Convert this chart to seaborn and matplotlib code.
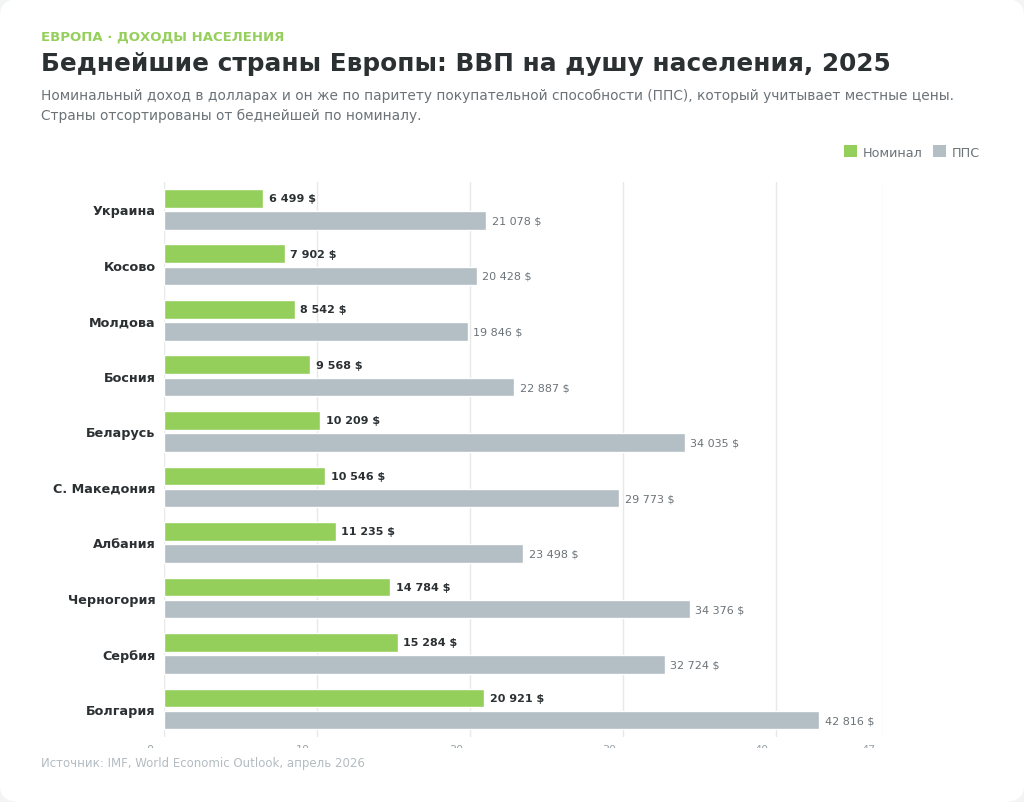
import pandas as pd
import numpy as np
import matplotlib
matplotlib.use("Agg")
import matplotlib.pyplot as plt
import seaborn as sns
from matplotlib.patches import Patch, FancyBboxPatch
from matplotlib.transforms import Bbox, TransformedBbox, ScaledTranslation

COUNTRIES = ['Украина', 'Косово', 'Молдова', 'Босния', 'Беларусь',
             'С. Македония', 'Албания', 'Черногория', 'Сербия', 'Болгария']
NOMINAL = [6499, 7902, 8542, 9568, 10209, 10546, 11235, 14784, 15284, 20921]
PPP = [21078, 20428, 19846, 22887, 34035, 29773, 23498, 34376, 32724, 42816]
SERIES = ['Номинал', 'ППС']
X_TICKS = [0, 10000, 20000, 30000, 40000, 47000]
X_TICK_LABELS = ['0', '10', '20', '30', '40', '47']

GREEN = '#95cf5b'
GREY = '#b4bec5'
DARK = '#2b3033'
MUTED = '#6b7378'


def fmt(v):
    return f"{v:,}".replace(",", " ") + " $"


df = pd.DataFrame({
    'country': COUNTRIES * 2,
    'value': NOMINAL + PPP,
    'series': [SERIES[0]] * len(COUNTRIES) + [SERIES[1]] * len(COUNTRIES),
})

sns.set_style("white")
plt.rcParams['font.family'] = ['DejaVu Sans']

fig = plt.figure(figsize=(10.24, 8.03), dpi=100)
fig.patch.set_facecolor('#f3f4f5')
card = FancyBboxPatch((0, 0), 1, 1, boxstyle="round,pad=0,rounding_size=0.02",
                      transform=fig.transFigure, facecolor='white',
                      edgecolor='none', zorder=-10)
fig.patches.append(card)

ax = fig.add_axes([0.1602, 0.0812, 0.7021, 0.6914])
ax.set_facecolor('none')
sns.barplot(data=df, x='value', y='country', hue='series', order=COUNTRIES,
            hue_order=SERIES, palette=[GREEN, GREY], orient='h', saturation=1,
            width=0.8, gap=0.16, legend=False, ax=ax, zorder=3)

ax.bar_label(ax.containers[0], labels=[fmt(v) for v in NOMINAL], padding=4,
             fontsize=8, fontweight='bold', color=DARK)
ax.bar_label(ax.containers[1], labels=[fmt(v) for v in PPP], padding=4,
             fontsize=8, color=MUTED)

ax.set_xlim(0, 47000)
ax.set_ylim(len(COUNTRIES) - 0.5, -0.5)
ax.set_xticks(X_TICKS)
ax.set_xticklabels(X_TICK_LABELS)
ax.grid(axis='x', color='#e6e8ea', linewidth=1, zorder=0)
ax.grid(axis='y', visible=False)
for s in ax.spines.values():
    s.set_visible(False)
ax.set_xlabel('')
ax.set_ylabel('')
ax.tick_params(axis='y', length=0, pad=6, labelsize=9.2, labelcolor=DARK)
ax.tick_params(axis='x', length=0, pad=5, labelsize=8, labelcolor='#9aa3a8')
for lbl in ax.get_yticklabels():
    lbl.set_fontweight('bold')

# bottom tick labels are cut off in the original card
clip = TransformedBbox(Bbox([[0, 1 - 749 / 803], [1, 1]]), fig.transFigure)
shift = ScaledTranslation(-14 / 100, 0, fig.dpi_scale_trans)
for lbl in ax.get_xticklabels():
    lbl.set_transform(lbl.get_transform() + shift)
    lbl.set_clip_box(clip)
    lbl.set_clip_on(True)

fig.text(0.040, 1 - 37 / 803, 'ЕВРОПА · ДОХОДЫ НАСЕЛЕНИЯ', fontsize=9.5,
         fontweight='bold', color=GREEN, va='center')
fig.text(0.040, 1 - 64 / 803, 'Беднейшие страны Европы: ВВП на душу населения, 2025',
         fontsize=17.8, fontweight='bold', color=DARK, va='center')
fig.text(0.040, 1 - 96 / 803,
         'Номинальный доход в долларах и он же по паритету покупательной способности (ППС), который учитывает местные цены.',
         fontsize=9.9, color=MUTED, va='center')
fig.text(0.040, 1 - 116 / 803, 'Страны отсортированы от беднейшей по номиналу.',
         fontsize=9.9, color=MUTED, va='center')
fig.text(0.040, 1 - 764 / 803, 'Источник: IMF, World Economic Outlook, апрель 2026',
         fontsize=8.5, color='#b3bcc2', va='center')

handles = [Patch(facecolor=GREEN, edgecolor='none', label=SERIES[0]),
           Patch(facecolor=GREY, edgecolor='none', label=SERIES[1])]
leg = fig.legend(handles=handles, loc='center right', bbox_to_anchor=(0.9625, 1 - 153 / 803),
                 ncol=2, frameon=False, fontsize=9.2, handlelength=1.05, handleheight=1.05,
                 handletextpad=0.45, columnspacing=0.8, borderaxespad=0)
for t in leg.get_texts():
    t.set_color(MUTED)

fig.savefig('out.png', dpi=100, facecolor=fig.get_facecolor())
